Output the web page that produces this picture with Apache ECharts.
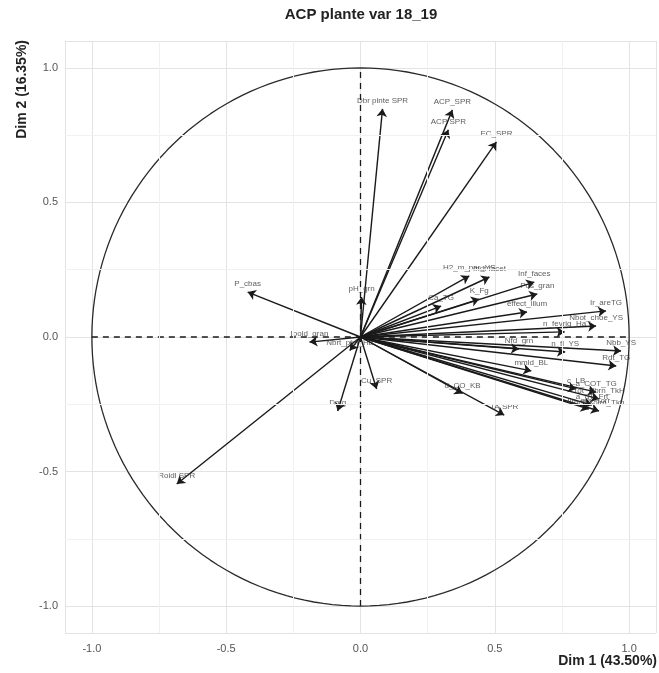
<!DOCTYPE html>
<html>
<head>
<meta charset="utf-8">
<script src="https://cdn.jsdelivr.net/npm/echarts@6/dist/echarts.min.js"></script>
<style>
  html, body { margin: 0; padding: 0; background: #fff; }
  #chart { width: 659px; height: 673px; }
</style>
</head>
<body>
<div id="chart"></div>
<script>
// variables of the PCA (correlation circle)
const varNames = [
  'Dbr plnte SPR', 'ACP_SPR', 'ACP SPR', 'EC_SPR', 'pH_grn',
  'P_cbas', 'Ibold_gran', 'Roidl SPR', 'Dmg', 'Cu_SPR', 'Nbrt_plnt_Ha',
  'H2_m_par_YS', 'Indt facet', 'Inf_faces', 'K_Fg', 'Pds_gran', 'Ca_TG',
  'effect_illum', 'Ir_areTG', 'Nbot_choe_YS', 'n_fevrig_Ha',
  'n_fl_YS', 'Nbb_YS', 'Rdt_TG', 'mmld_BL', 'a_COT_TG', 'c_LB',
  'a_dT_Frt', 'Tot_Nbrn_TkH', 'Ile_gra_Torr', 'drs_soirn_Tkh',
  'd_CO_KB', 'TA SPR', 'Nfd_grn'
];
const dim1 = [
  0.082, 0.342, 0.327, 0.506, 0.004,
  -0.420, -0.190, -0.684, -0.085, 0.060, -0.040,
  0.405, 0.480, 0.647, 0.442, 0.658, 0.300,
  0.620, 0.914, 0.877, 0.760,
  0.762, 0.970, 0.952, 0.636, 0.877, 0.803,
  0.862, 0.888, 0.850, 0.888,
  0.380, 0.535, 0.590
];
const dim2 = [
  0.848, 0.844, 0.770, 0.725, 0.149,
  0.167, -0.019, -0.546, -0.275, -0.193, -0.050,
  0.227, 0.223, 0.204, 0.141, 0.160, 0.115,
  0.093, 0.097, 0.041, 0.019,
  -0.056, -0.052, -0.108, -0.126, -0.205, -0.193,
  -0.253, -0.230, -0.268, -0.275,
  -0.210, -0.290, -0.045
];
const majorTicks = [-1, -0.5, 0, 0.5, 1];
const minorTicks = [-0.75, -0.25, 0.25, 0.75];

// unit circle
const circle = [];
for (let a = 0; a <= 360; a += 2) {
  const r = a * Math.PI / 180;
  circle.push([Math.cos(r), Math.sin(r)]);
}

const chart = echarts.init(document.getElementById('chart'));
const font = 'Liberation Sans, Arial, sans-serif';

function axis() {
  return {
    type: 'value',
    min: -1.1,
    max: 1.1,
    axisLine: { show: false },
    axisTick: { show: false },
    axisLabel: {
      interval: 0,
      color: '#555',
      fontSize: 11,
      fontFamily: font,
      formatter: v => majorTicks.some(t => Math.abs(t - v) < 1e-6) ? v.toFixed(1) : ''
    },
    splitLine: { show: true, lineStyle: { color: '#e3e3e3', width: 1 } }
  };
}

const xAx = axis();
xAx.axisLabel.margin = 10;
const yAx = axis();
yAx.axisLabel.margin = 7;

chart.setOption({
  animation: false,
  backgroundColor: '#fff',
  grid: { left: 65, top: 41, width: 592, height: 592 },
  xAxis: xAx,
  yAxis: yAx,
  graphic: [
    { type: 'text', x: 361, y: 7, style: { text: 'ACP plante var 18_19', font: 'bold 15px ' + font, fill: '#222', textAlign: 'center' } },
    { type: 'text', x: 657, y: 654, style: { text: 'Dim 1 (43.50%)', font: 'bold 14px ' + font, fill: '#222', textAlign: 'right' } },
    { type: 'text', x: 15, y: 40, rotation: Math.PI / 2, style: { text: 'Dim 2 (16.35%)', font: 'bold 14px ' + font, fill: '#222', textAlign: 'right', textVerticalAlign: 'top' } }
  ],
  series: [
    {
      type: 'line', data: [], silent: true, z: 0,
      markLine: {
        silent: true, symbol: 'none', label: { show: false },
        lineStyle: { color: '#f1f1f1', width: 1, type: 'solid' },
        data: minorTicks.map(v => ({ xAxis: v })).concat(minorTicks.map(v => ({ yAxis: v })))
      }
    },
    {
      type: 'line', data: circle, showSymbol: false, silent: true,
      lineStyle: { color: '#2a2a2a', width: 1.3 }
    },
    {
      type: 'line', data: [[-1, 0], [1, 0]], showSymbol: false, silent: true,
      lineStyle: { color: '#1a1a1a', width: 1.3, type: [6, 5] }
    },
    {
      type: 'line', data: [[0, -1], [0, 1]], showSymbol: false, silent: true,
      lineStyle: { color: '#1a1a1a', width: 1.3, type: [6, 5] }
    },
    {
      type: 'lines', coordinateSystem: 'cartesian2d', silent: true,
      symbol: ['none', 'arrow'], symbolSize: 8,
      lineStyle: { color: '#1a1a1a', width: 1.4, opacity: 1 },
      data: varNames.map((n, i) => ({ coords: [[0, 0], [dim1[i], dim2[i]]] }))
    },
    {
      type: 'scatter', symbolSize: 0, silent: true,
      label: {
        show: true, position: 'top', distance: 4, formatter: '{b}',
        fontSize: 8, fontFamily: font, color: '#333'
      },
      data: varNames.map((n, i) => ({ name: n, value: [dim1[i], dim2[i]] }))
    }
  ]
});
</script>
</body>
</html>
